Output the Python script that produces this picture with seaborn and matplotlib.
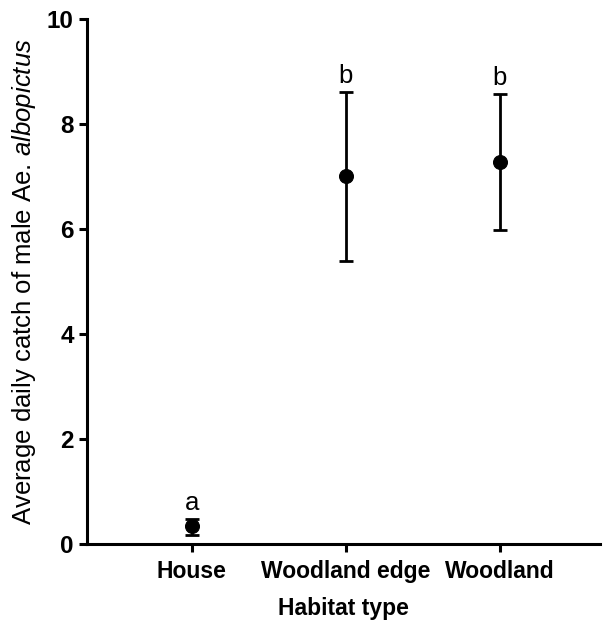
import numpy as np
import pandas as pd
import matplotlib
matplotlib.use('Agg')
import matplotlib.pyplot as plt
import seaborn as sns

sns.set_style('ticks')
plt.rcParams['font.family'] = ['Liberation Sans', 'DejaVu Sans']
plt.rcParams['mathtext.fontset'] = 'custom'
plt.rcParams['mathtext.it'] = 'Liberation Sans:italic'
plt.rcParams['mathtext.rm'] = 'Liberation Sans'
for k in ['text.color', 'axes.labelcolor', 'xtick.color', 'ytick.color', 'axes.edgecolor']:
    plt.rcParams[k] = 'black'

# values
habitats = ['House', 'Woodland edge', 'Woodland']
mean_catch = [0.33, 7.0, 7.27]
err_low = [0.16, 5.38, 5.97]
err_high = [0.48, 8.60, 8.56]
letters = ['a', 'b', 'b']

df = pd.DataFrame({'habitat': habitats, 'catch': mean_catch})
yerr = np.array([np.array(mean_catch) - np.array(err_low),
                 np.array(err_high) - np.array(mean_catch)])

fig = plt.figure(figsize=(6.03, 6.25), dpi=100)
ax = fig.add_axes([0.144, 0.13, 0.851, 0.84])

ax.errorbar(df['habitat'], df['catch'], yerr=yerr, fmt='none',
            ecolor='black', elinewidth=2, capsize=5, capthick=2)
sns.scatterplot(data=df, x='habitat', y='catch', color='black', s=100,
                edgecolor='black', zorder=3, ax=ax)

for i, lab in enumerate(letters):
    ax.text(i, err_high[i] + 0.17, lab, ha='center', va='baseline', fontsize=18.5)

ax.set_xlim(-0.68, 2.65)
ax.set_ylim(0, 10)
ax.set_yticks([0, 2, 4, 6, 8, 10])

ax.set_xlabel('Habitat type', fontsize=16.5, fontweight='bold', labelpad=10)
ax.set_ylabel(r'Average daily catch of male Ae. $\it{albopictus}$', fontsize=18.5, labelpad=6)
for t in ax.get_xticklabels():
    t.set_fontweight('bold')
    t.set_fontsize(16.5)
for t in ax.get_yticklabels():
    t.set_fontweight('bold')
    t.set_fontsize(17.5)

sns.despine(ax=ax)
for s in ['left', 'bottom']:
    ax.spines[s].set_linewidth(2.2)
ax.tick_params(width=2.2, length=6)
ax.tick_params(axis='x', pad=6)

plt.savefig('out.png', dpi=100)
